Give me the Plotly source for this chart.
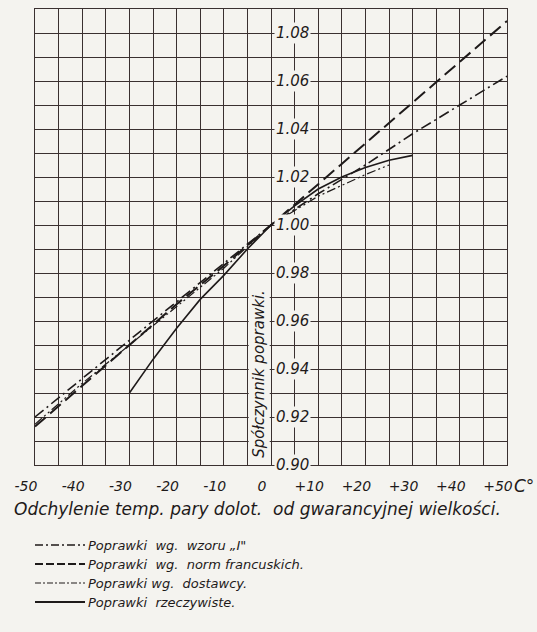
import plotly.graph_objects as go

# ---- data ----
x_tick_vals = [-50, -40, -30, -20, -10, 0, 10, 20, 30, 40, 50]
x_tick_text = ["-50", "-40", "-30", "-20", "-10", "0", "+10", "+20", "+30", "+40", "+50"]
y_tick_vals = [1.08, 1.06, 1.04, 1.02, 1.00, 0.98, 0.96, 0.94, 0.92, 0.90]
y_tick_text = ["1.08", "1.06", "1.04", "1.02", "1.00", "0.98", "0.96", "0.94", "0.92", "0.90"]

wzor_x = [-50, -40, -30, -20, -10, 0, 10, 20, 30, 40, 50]
wzor_y = [0.920, 0.936, 0.952, 0.968, 0.984, 1.000, 1.013, 1.025, 1.038, 1.050, 1.062]

franc_x = [-50, -40, -30, -20, -10, 0, 10, 20, 30, 40, 50]
franc_y = [0.916, 0.933, 0.950, 0.967, 0.983, 1.000, 1.017, 1.034, 1.051, 1.068, 1.085]

dost_x = [-50, -40, -30, -20, -10, 0, 10, 20, 25]
dost_y = [0.917, 0.934, 0.950, 0.966, 0.982, 1.000, 1.012, 1.021, 1.025]

rzecz_x = [-30, -25, -20, -15, -10, -5, 0, 5, 10, 15, 20, 25, 30]
rzecz_y = [0.930, 0.944, 0.957, 0.969, 0.979, 0.990, 1.000, 1.008, 1.015, 1.020, 1.024, 1.027, 1.029]

legend_names = ["Poprawki  wg.  wzoru „I\"", "Poprawki  wg.  norm francuskich.",
                "Poprawki wg.  dostawcy.", "Poprawki  rzeczywiste."]

# ---- style ----
BG = "#f4f3ef"
GRID = "#3a3030"
INK = "#1e1a1a"
FONT = "DejaVu Sans"

series = [
    (wzor_x, wzor_y, legend_names[0], "11px,4px,2px,4px", 1.6, "8px,3px,2px,3px"),
    (franc_x, franc_y, legend_names[1], "14px,6px", 2.0, "8px,3px"),
    (dost_x, dost_y, legend_names[2], "9px,3px,2px,3px,2px,3px", 1.2, "6px,2px,2px,2px"),
    (rzecz_x, rzecz_y, legend_names[3], "solid", 1.6, "solid"),
]

fig = go.Figure()
for xs, ys, name, dash, w, _ in series:
    fig.add_trace(go.Scatter(x=xs, y=ys, mode="lines", name=name,
                             line=dict(color=INK, width=w, dash=dash),
                             showlegend=False))

W, H = 537, 632
ML, MR, MT, MB = 35, 30, 9, 167
PW, PH = W - ML - MR, H - MT - MB


def px2paper(px, py):
    return (px - ML) / PW, (H - MB - py) / PH


fig.update_layout(
    width=W, height=H,
    margin=dict(l=ML, r=MR, t=MT, b=MB),
    paper_bgcolor=BG, plot_bgcolor=BG,
    font=dict(family=FONT, color=INK, size=15, style="italic"),
    xaxis=dict(range=[-50, 50], tickvals=x_tick_vals, ticktext=x_tick_text,
               showgrid=True, gridcolor=GRID, gridwidth=1.1,
               minor=dict(dtick=5, tick0=0, showgrid=True, gridcolor=GRID, gridwidth=1.1),
               zeroline=False, showline=True, linecolor=GRID, linewidth=1.2, mirror=True,
               ticks="", ticklabelstandoff=8, ticklabelshift=-9,
               tickfont=dict(size=14, family=FONT, style="italic", color=INK)),
    yaxis=dict(range=[0.90, 1.09], dtick=0.01, tick0=0.9,
               showgrid=True, gridcolor=GRID, gridwidth=1.1,
               zeroline=False, showline=True, linecolor=GRID, linewidth=1.2, mirror=True,
               showticklabels=False, ticks=""),
)

# y tick labels inside the plot, right of the zero line
for v, t in zip(y_tick_vals, y_tick_text):
    fig.add_annotation(x=0, y=v, xref="x", yref="y", text=t, showarrow=False,
                       xanchor="left", yanchor="middle", xshift=3,
                       bgcolor=BG, borderpad=1,
                       font=dict(size=15, family=FONT, style="italic", color=INK))

# y axis title
fig.add_annotation(x=0, y=0.938, xref="x", yref="y", text="Spółczynnik poprawki.",
                   showarrow=False, textangle=-90, xanchor="right", yanchor="middle",
                   xshift=-1, bgcolor=BG, borderpad=1,
                   font=dict(size=15, family=FONT, style="italic", color=INK))

# unit after +50
ux, uy = px2paper(512, 486)
fig.add_annotation(x=ux, y=uy, xref="paper", yref="paper", text="C°", showarrow=False,
                   xanchor="left", yanchor="middle",
                   font=dict(size=17, family=FONT, style="italic", color=INK))

# x axis title
tx, ty = px2paper(257, 509)
fig.add_annotation(x=tx, y=ty, xref="paper", yref="paper",
                   text="Odchylenie temp. pary dolot.  od gwarancyjnej wielkości.",
                   showarrow=False, xanchor="center", yanchor="middle",
                   font=dict(size=17, family=FONT, style="italic", color=INK))

# legend drawn manually
rows = [545, 564, 583, 602]
for (xs, ys, name, dash, w, ldash), py in zip(series, rows):
    x0, y0 = px2paper(35, py)
    x1, _ = px2paper(85, py)
    fig.add_shape(type="line", xref="paper", yref="paper", x0=x0, x1=x1, y0=y0, y1=y0,
                  line=dict(color=INK, width=w if ldash != "solid" else 2.0, dash=ldash))
    ax, _ = px2paper(86, py)
    fig.add_annotation(x=ax, y=y0, xref="paper", yref="paper", text=name, showarrow=False,
                       xanchor="left", yanchor="middle",
                       font=dict(size=13, family=FONT, style="italic", color=INK))

fig.write_html("out.html", config={"displayModeBar": False},
               post_script="document.body.style.margin='0';")
